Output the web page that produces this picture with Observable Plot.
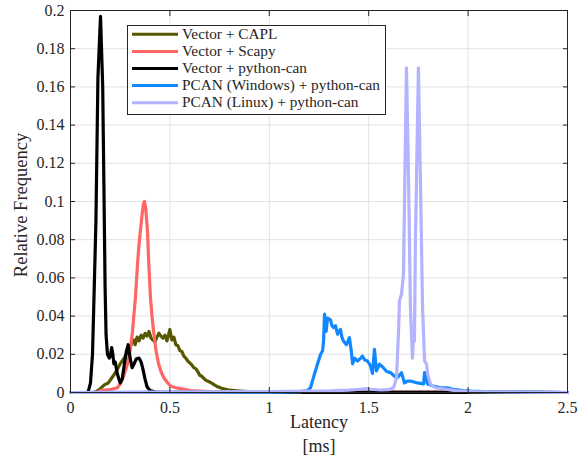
<!DOCTYPE html>
<html><head><meta charset="utf-8">
<script src="https://cdn.jsdelivr.net/npm/d3@7"></script>
<script src="https://cdn.jsdelivr.net/npm/@observablehq/plot@0.6"></script>
<style>
  html,body{margin:0;padding:0;background:#fff}
  #chart{width:587px;height:458px}
</style>
</head><body><div id="chart"></div>
<script>
// ---- Data -------------------------------------------------------------
const seriesNames = [
  "Vector + CAPL",
  "Vector + Scapy",
  "Vector + python-can",
  "PCAN (Windows) + python-can",
  "PCAN (Linux) + python-can"
];
const seriesColors = ["#575700", "#ff6666", "#000000", "#1188ff", "#b3b3ff"];

const caplLatency = [0, 0.11, 0.13, 0.15, 0.17, 0.19, 0.21, 0.22, 0.235, 0.25, 0.26, 0.27, 0.28, 0.29, 0.30, 0.31, 0.32, 0.325, 0.335, 0.345, 0.355, 0.365, 0.375, 0.385, 0.395, 0.405, 0.415, 0.425, 0.435, 0.445, 0.455, 0.465, 0.475, 0.485, 0.495, 0.50, 0.51, 0.52, 0.53, 0.54, 0.55, 0.56, 0.57, 0.58, 0.59, 0.60, 0.61, 0.62, 0.63, 0.64, 0.65, 0.66, 0.68, 0.70, 0.72, 0.74, 0.76, 0.78, 0.80, 0.85, 0.90, 1.0, 1.2, 1.6, 2.5];
const caplFreq    = [0, 0, 0.0005, 0.002, 0.004, 0.005, 0.008, 0.0095, 0.012, 0.015, 0.0165, 0.018, 0.02, 0.0215, 0.024, 0.026, 0.0275, 0.025, 0.029, 0.027, 0.03, 0.0285, 0.031, 0.0295, 0.032, 0.0285, 0.0275, 0.0265, 0.029, 0.031, 0.0295, 0.0285, 0.03, 0.027, 0.031, 0.033, 0.0275, 0.029, 0.025, 0.0245, 0.022, 0.0215, 0.019, 0.018, 0.0165, 0.0155, 0.0145, 0.013, 0.0125, 0.011, 0.009, 0.0085, 0.0065, 0.0055, 0.0042, 0.003, 0.0022, 0.0017, 0.0012, 0.0008, 0.0005, 0.0003, 0.0002, 0.0001, 0];

const scapyLatency = [0, 0.14, 0.15, 0.2, 0.236, 0.25, 0.262, 0.275, 0.287, 0.30, 0.312, 0.32, 0.327, 0.337, 0.345, 0.352, 0.36, 0.367, 0.372, 0.378, 0.387, 0.394, 0.402, 0.41, 0.418, 0.43, 0.443, 0.455, 0.468, 0.485, 0.503, 0.53, 0.553, 0.604, 0.7, 0.9, 1.2, 2.5];
const scapyFreq    = [0, 0, 0.001, 0.0015, 0.0025, 0.0045, 0.007, 0.011, 0.015, 0.022, 0.032, 0.042, 0.05, 0.067, 0.078, 0.085, 0.093, 0.099, 0.1, 0.097, 0.085, 0.067, 0.05, 0.04, 0.032, 0.022, 0.015, 0.011, 0.008, 0.0055, 0.0034, 0.0025, 0.002, 0.001, 0.0005, 0.0003, 0.0002, 0];

const pyCanLatency = [0, 0.085, 0.0905, 0.1006, 0.1107, 0.117, 0.128, 0.138, 0.151, 0.162, 0.169, 0.174, 0.179, 0.186, 0.195, 0.2, 0.207, 0.213, 0.218, 0.225, 0.235, 0.25, 0.26, 0.27, 0.28, 0.29, 0.30, 0.31, 0.32, 0.33, 0.345, 0.355, 0.365, 0.375, 0.385, 0.40, 0.43, 0.6, 2.5];
const pyCanFreq    = [0, 0, 0.001, 0.005, 0.02, 0.045, 0.09, 0.165, 0.197, 0.16, 0.1, 0.055, 0.03, 0.02, 0.018, 0.019, 0.0235, 0.02, 0.015, 0.016, 0.01, 0.005, 0.007, 0.014, 0.021, 0.025, 0.018, 0.013, 0.015, 0.0175, 0.018, 0.016, 0.012, 0.007, 0.003, 0.001, 0.0002, 0.0001, 0];

const pcanWinLatency = [0, 1.0, 1.15, 1.191, 1.207, 1.222, 1.242, 1.258, 1.268, 1.273, 1.278, 1.286, 1.293, 1.30, 1.308, 1.315, 1.323, 1.333, 1.343, 1.35, 1.358, 1.365, 1.373, 1.388, 1.403, 1.412, 1.419, 1.429, 1.444, 1.46, 1.469, 1.48, 1.494, 1.509, 1.519, 1.529, 1.539, 1.554, 1.574, 1.59, 1.61, 1.63, 1.645, 1.665, 1.68, 1.695, 1.71, 1.745, 1.776, 1.781, 1.796, 1.826, 1.861, 1.896, 1.926, 1.977, 2.012, 2.113, 2.264, 2.5];
const pcanWinFreq    = [0, 0.0002, 0.0003, 0.001, 0.0025, 0.0078, 0.0148, 0.02, 0.0218, 0.027, 0.041, 0.032, 0.039, 0.0385, 0.038, 0.035, 0.034, 0.035, 0.0305, 0.032, 0.033, 0.029, 0.027, 0.025, 0.0287, 0.022, 0.015, 0.018, 0.0165, 0.018, 0.019, 0.017, 0.0165, 0.014, 0.010, 0.0226, 0.0113, 0.0148, 0.013, 0.011, 0.0104, 0.0085, 0.0078, 0.0104, 0.005, 0.006, 0.006, 0.005, 0.0045, 0.0104, 0.0045, 0.0034, 0.0025, 0.0025, 0.0017, 0.001, 0.0007, 0.0004, 0.0003, 0];

const pcanLinLatency = [0, 0.6, 1.0, 1.3, 1.4, 1.459, 1.49, 1.509, 1.559, 1.6, 1.625, 1.64, 1.65, 1.655, 1.665, 1.675, 1.69, 1.70, 1.71, 1.72, 1.727, 1.73, 1.735, 1.75, 1.761, 1.771, 1.781, 1.791, 1.797, 1.811, 1.836, 1.886, 1.937, 2.012, 2.2, 2.5];
const pcanLinFreq    = [0, 0.0003, 0.0005, 0.0008, 0.0012, 0.0017, 0.002, 0.0017, 0.0013, 0.0015, 0.0025, 0.0078, 0.032, 0.048, 0.0515, 0.062, 0.17, 0.115, 0.044, 0.018, 0.032, 0.027, 0.079, 0.17, 0.106, 0.044, 0.0165, 0.0148, 0.0095, 0.0043, 0.0025, 0.0018, 0.001, 0.0005, 0.0003, 0];

const xTicks = [0, 0.5, 1, 1.5, 2, 2.5];
const yTicks = [0, 0.02, 0.04, 0.06, 0.08, 0.1, 0.12, 0.14, 0.16, 0.18, 0.2];
const xLabel = "Latency";
const xUnit = "[ms]";
const yLabel = "Relative Frequency";

// ---- Build table -------------------------------------------------------
const seriesX = [caplLatency, scapyLatency, pyCanLatency, pcanWinLatency, pcanLinLatency];
const seriesY = [caplFreq, scapyFreq, pyCanFreq, pcanWinFreq, pcanLinFreq];
const rows = [];
seriesNames.forEach((name, i) => {
  seriesX[i].forEach((x, j) => rows.push({series: name, x, y: seriesY[i][j]}));
});

const fmt = d3.format("~g");
const axisColor = "#262626";
const gridColor = "#e2e2e2";

const chart = Plot.plot({
  width: 587, height: 458,
  marginLeft: 70, marginRight: 20, marginTop: 10, marginBottom: 66,
  style: {fontFamily: "'Liberation Serif', 'Times New Roman', serif", fontSize: "16px", color: axisColor, background: "white"},
  x: {domain: [0, 2.5]},
  y: {domain: [0, 0.2]},
  color: {domain: seriesNames, range: seriesColors},
  marks: [
    Plot.gridX(xTicks, {stroke: gridColor, strokeOpacity: 1}),
    Plot.gridY(yTicks, {stroke: gridColor, strokeOpacity: 1}),
    Plot.line(rows, {x: "x", y: "y", z: "series", stroke: "series", strokeWidth: 3.2, strokeLinejoin: "round", strokeLinecap: "round"}),
    Plot.frame({stroke: axisColor, strokeWidth: 1}),
    Plot.axisX(xTicks, {anchor: "bottom", tickSize: 0, tickPadding: 9, label: null, tickFormat: fmt}),
    Plot.axisY(yTicks, {anchor: "left", tickSize: 0, tickPadding: 6, label: null, tickFormat: fmt}),
    Plot.axisX(xTicks, {anchor: "bottom", tickSize: -5, label: null, tickFormat: () => "", stroke: axisColor}),
    Plot.axisX(xTicks, {anchor: "top", tickSize: -5, label: null, tickFormat: () => "", stroke: axisColor}),
    Plot.axisY(yTicks, {anchor: "left", tickSize: -5, label: null, tickFormat: () => "", stroke: axisColor}),
    Plot.axisY(yTicks, {anchor: "right", tickSize: -5, label: null, tickFormat: () => "", stroke: axisColor})
  ]
});
document.getElementById("chart").appendChild(chart);

// ---- Axis labels & legend ---------------------------------------------
const svg = d3.select(chart);
const font = "'Liberation Serif', 'Times New Roman', serif";
svg.append("text").attr("x", 319).attr("y", 428).attr("text-anchor", "middle")
  .attr("font-family", font).attr("font-size", 18).attr("fill", axisColor).text(xLabel);
svg.append("text").attr("x", 319).attr("y", 452).attr("text-anchor", "middle")
  .attr("font-family", font).attr("font-size", 18).attr("fill", axisColor).text(xUnit);
svg.append("text").attr("transform", "translate(27,205) rotate(-90)").attr("text-anchor", "middle")
  .attr("font-family", font).attr("font-size", 18.5).attr("fill", axisColor).text(yLabel);

const lg = svg.append("g");
lg.append("rect").attr("x", 127.5).attr("y", 25.5).attr("width", 258).attr("height", 89)
  .attr("fill", "white").attr("stroke", axisColor).attr("stroke-width", 1);
seriesNames.forEach((name, i) => {
  const cy = 34.3 + i * 17.1;
  lg.append("line").attr("x1", 132).attr("x2", 178).attr("y1", cy).attr("y2", cy)
    .attr("stroke", seriesColors[i]).attr("stroke-width", 3);
  lg.append("text").attr("x", 182).attr("y", cy + 4.7).attr("text-anchor", "start")
    .attr("font-family", font).attr("font-size", 15.3).attr("fill", axisColor).text(name);
});
</script>
</body></html>
